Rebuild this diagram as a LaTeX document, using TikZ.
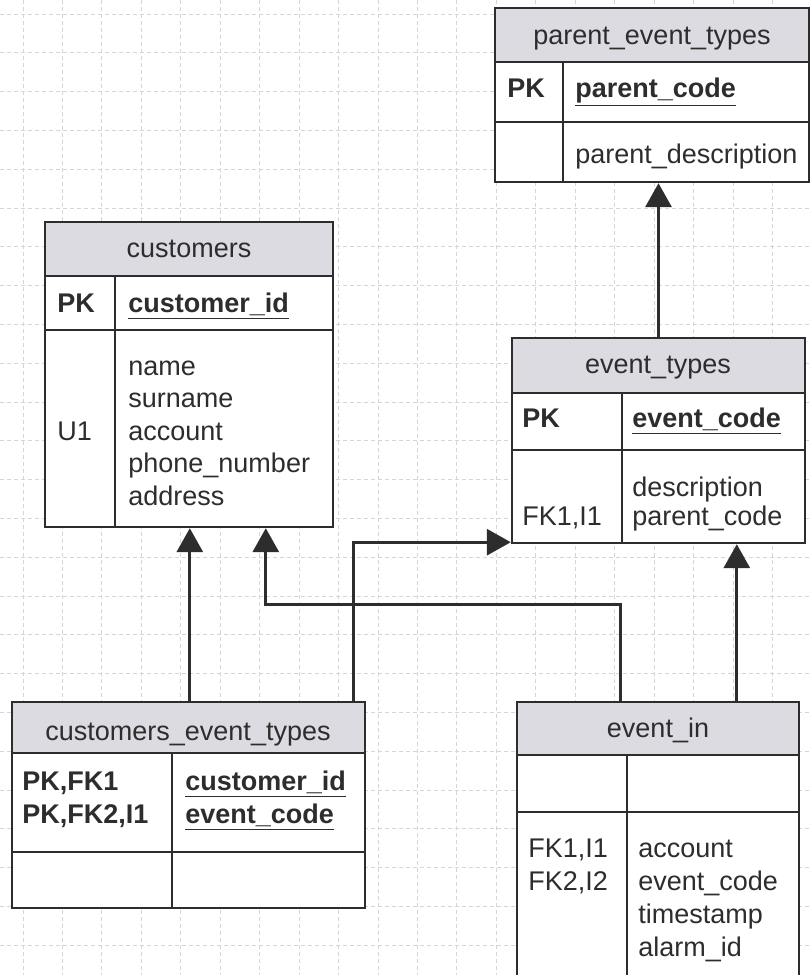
\documentclass[tikz,border=0pt]{standalone}
\usepackage{fontspec}
\setmainfont{Liberation Sans}
\usetikzlibrary{arrows.meta,fit}
\definecolor{ink}{RGB}{45,45,45}
\definecolor{hdrfill}{RGB}{220,219,225}
\definecolor{gridc}{RGB}{212,212,218}

\begin{document}
\begin{tikzpicture}[x=0.5pt,y=-0.5pt,
  box/.style={draw=ink, line width=1.2pt, fill=white, inner sep=0pt},
  hdr/.style={draw=ink, line width=1.2pt, fill=hdrfill},
  rule/.style={draw=ink, line width=1.2pt},
  txt/.style={anchor=base west, inner sep=0pt, text=ink,
              font=\fontsize{13.5}{16.25}\selectfont},
  ttl/.style={anchor=base, inner sep=0pt, text=ink,
              font=\fontsize{13.5}{16.25}\selectfont},
  fk/.style={draw=ink, line width=1.6pt, -{Triangle[width=13pt,length=12pt]}},
  gridline/.style={draw=gridc, line width=0.5pt, dash pattern=on 2pt off 1.5pt}]

\useasboundingbox (0,0) rectangle (811,975);
\clip (0,0) rectangle (811,975);
\fill[white] (0,0) rectangle (811,975);

% background grid
\foreach \k in {0,...,20} \draw[gridline] ({23+39.45*\k},0) -- ({23+39.45*\k},975);
\foreach \k in {0,...,24} \draw[gridline] (0,{14+38.8*\k}) -- (811,{14+38.8*\k});

% ---- parent_event_types
\node[box, fit={(495,8)(809,182)}] (pet) {};
\draw[hdr] (495,8) rectangle (809,62);
\draw[rule] (495,122) -- (809,122) (563,62) -- (563,182);
\node[ttl] (petT) at (652,44) {parent\_event\_types};
\node[txt] (petK) at (507,97) {\bfseries PK};
\node[txt] (petF) at (575,97) {\bfseries\underline{parent\_code}};
\node[txt] (petD) at (575,163) {parent\_description};

% ---- customers
\node[box, fit={(45,222)(333,527)}] (cust) {};
\draw[hdr] (45,222) rectangle (333,276);
\draw[rule] (45,330) -- (333,330) (115,276) -- (115,527);
\node[ttl] (custT) at (189,257) {customers};
\node[txt] (custK) at (57,312) {\bfseries PK};
\node[txt] (custF) at (128,312) {\bfseries\underline{customer\_id}};
\node[txt] (custU) at (57,440) {U1};
\foreach \t [count=\i] in {name,surname,account,phone\_number,address}
  \node[txt] (custD\i) at (128,{375+32.5*(\i-1)}) {\t};

% ---- event_types
\node[box, fit={(512,338)(805,543)}] (et) {};
\draw[hdr] (512,338) rectangle (805,393);
\draw[rule] (512,450) -- (805,450) (622,393) -- (622,543);
\node[ttl] (etT) at (658,373) {event\_types};
\node[txt] (etK) at (522,427) {\bfseries PK};
\node[txt] (etF) at (632,427) {\bfseries\underline{event\_code}};
\node[txt] (etI) at (522,525) {FK1,I1};
\node[txt] (etD1) at (632,496) {description};
\node[txt] (etD2) at (632,525) {parent\_code};

% ---- customers_event_types
\node[box, fit={(12,702)(365,908)}] (cet) {};
\draw[hdr] (12,702) rectangle (365,753);
\draw[rule] (12,852) -- (365,852) (172,753) -- (172,908);
\node[ttl] (cetT) at (188,740) {customers\_event\_types};
\node[txt] (cetK1) at (22,790) {\bfseries PK,FK1};
\node[txt] (cetK2) at (22,823) {\bfseries PK,FK2,I1};
\node[txt] (cetF1) at (185,790) {\bfseries\underline{customer\_id}};
\node[txt] (cetF2) at (185,823) {\bfseries\underline{event\_code}};

% ---- event_in
\node[box, fit={(517,702)(799,995)}] (ein) {};
\draw[hdr] (517,702) rectangle (799,755);
\draw[rule] (517,812) -- (799,812) (627,755) -- (627,995);
\node[ttl] (einT) at (658,737) {event\_in};
\node[txt] (einK1) at (528,857) {FK1,I1};
\node[txt] (einK2) at (528,890) {FK2,I2};
\foreach \t [count=\i] in {account,event\_code,timestamp,alarm\_id}
  \node[txt] (einF\i) at (638,{857+33.3*(\i-1)}) {\t};

% ---- relationships
\draw[fk] (et.north) -- (et.north |- pet.south);
\draw[fk] ([xshift=89.5pt]cet.north west) coordinate (r1) -- (r1 |- cust.south);
\draw[fk] ([xshift=52.5pt]ein.north west) -- ++(0,-96) -| ([xshift=111pt]cust.south west);
\draw[fk] ([xshift=171.5pt]cet.north west) |- ([yshift=1pt]et.south west);
\draw[fk] ([xshift=110.5pt]ein.north west) coordinate (r5) -- (r5 |- et.south);
\end{tikzpicture}
\end{document}
